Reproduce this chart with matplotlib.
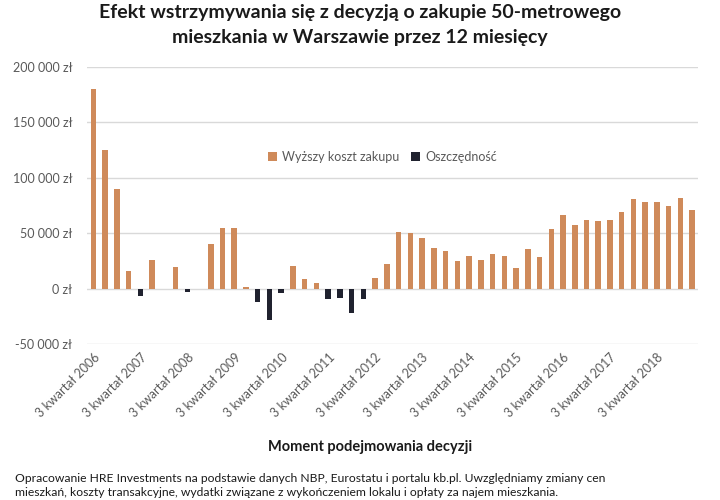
import matplotlib
matplotlib.use("Agg")
import matplotlib.pyplot as plt
import numpy as np

plt.rcParams['font.family'] = ['Lato', 'DejaVu Sans']

# -------------------------------
# Data (quarters 3Q2006 .. 2Q2019), values in zł
# -------------------------------
quarters = []
for year in range(2006, 2020):
    for q in range(1, 5):
        if (year, q) >= (2006, 3) and (year, q) <= (2019, 2):
            quarters.append(f"{q} kwartał {year}")

higher_cost = [180000, 125000, 89500, 16000, 0, 26000, 0, 19500, 0, 0,
               40500, 54500, 54500, 1800, 0, 0, 0, 20700, 9000, 5000,
               0, 0, 0, 0, 9900, 22500, 51000, 50300, 45600, 36800,
               34000, 25000, 29400, 26200, 31200, 29600, 18900, 36000, 28800, 53700,
               66000, 57000, 61500, 60600, 61500, 69000, 81000, 77800, 78600, 74100,
               82000, 70500]
savings = [0, 0, 0, 0, -7000, 0, 0, 0, -3000, 0,
           0, 0, 0, 0, -12300, -28300, -4200, 0, 0, 0,
           -9500, -8700, -22300, -9000, 0, 0, 0, 0, 0, 0,
           0, 0, 0, 0, 0, 0, 0, 0, 0, 0,
           0, 0, 0, 0, 0, 0, 0, 0, 0, 0,
           0, 0]

series_names = ["Wyższy koszt zakupu", "Oszczędność"]
y_ticks = [-50000, 0, 50000, 100000, 150000, 200000]
y_labels = ["-50 000 zł", "0 zł", "50 000 zł", "100 000 zł", "150 000 zł", "200 000 zł"]

title = "Efekt wstrzymywania się z decyzją o zakupie 50-metrowego\nmieszkania w Warszawie przez 12 miesięcy"
x_title = "Moment podejmowania decyzji"
footer = ("Opracowanie HRE Investments na podstawie danych NBP, Eurostatu i portalu kb.pl. Uwzględniamy zmiany cen\n"
          "mieszkań, koszty transakcyjne, wydatki związane z wykończeniem lokalu i opłaty za najem mieszkania.")

orange = '#CF8A5A'
navy = '#20222F'
grey_text = '#595959'

# -------------------------------
# Plot
# -------------------------------
fig = plt.figure(figsize=(7.2, 5.0), dpi=100)
ax = fig.add_axes([0.1215, 0.312, 0.848, 0.554])

x = np.arange(len(quarters))
ax.bar(x, higher_cost, width=0.47, color=orange, label=series_names[0], zorder=3)
ax.bar(x, savings, width=0.47, color=navy, label=series_names[1], zorder=3)

ax.set_xlim(-0.5, len(quarters) - 0.5)
ax.set_ylim(-50000, 200000)
ax.set_yticks(y_ticks)
ax.set_yticklabels(y_labels, color=grey_text, fontsize=9)
ax.yaxis.grid(True, color='#D9D9D9', linewidth=1, zorder=0)
ax.tick_params(axis='y', length=0, pad=11)

ax.set_xticks(x[::4])
ax.set_xticklabels(quarters[::4], rotation=45, ha='right', rotation_mode='anchor',
                   color=grey_text, fontsize=9)
ax.tick_params(axis='x', length=0, pad=5)

for s in ax.spines.values():
    s.set_visible(False)

ax.legend(loc='center', bbox_to_anchor=(0.483, 0.675), ncol=2, frameon=False,
          fontsize=9, handlelength=0.7, handleheight=0.7, handletextpad=0.4,
          columnspacing=1.0, labelcolor=grey_text)

fig.text(0.5, 0.992, title, ha='center', va='top', fontsize=14, fontweight='bold',
         linespacing=1.6, color='#1a1a1a')
fig.text(0.514, 0.105, x_title, ha='center', va='center', fontsize=10.5,
         fontweight='bold', color='#1a1a1a')
fig.text(0.021, 0.054, footer, ha='left', va='top', fontsize=8.7, linespacing=1.35,
         color='#1a1a1a')

fig.savefig('out.png', dpi=100)
